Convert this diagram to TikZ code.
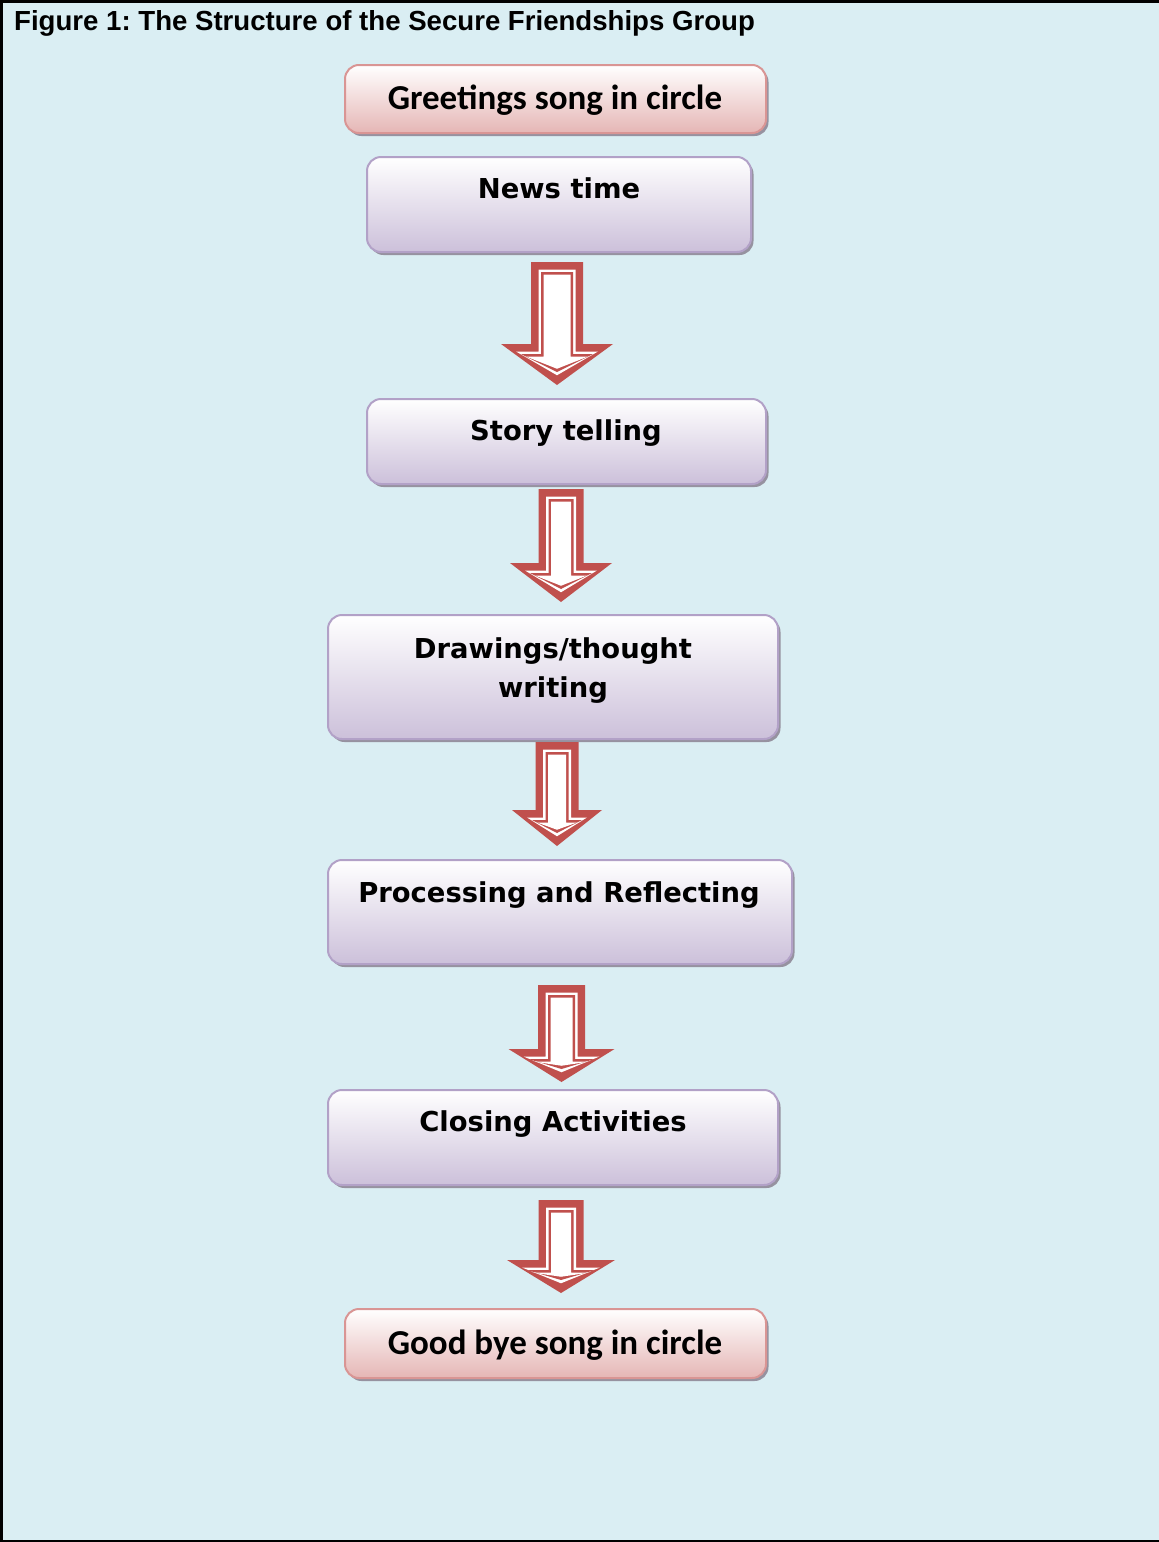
\documentclass[tikz,border=0pt]{standalone}
\usepackage{fontspec}
\usetikzlibrary{shadows}
\newfontfamily\titlefont{Liberation Sans}
\newfontfamily\calfont{Carlito}
\newfontfamily\verfont{DejaVu Sans}
\frenchspacing
\definecolor{bgblue}{RGB}{218,238,243}
\definecolor{pinkborder}{RGB}{217,149,148}
\definecolor{pinkbottom}{RGB}{229,182,181}
\definecolor{purpborder}{RGB}{178,161,199}
\definecolor{purpbottom}{RGB}{204,192,218}
\definecolor{shadowc}{RGB}{150,146,160}
\definecolor{arrowred}{RGB}{192,80,77}
\tikzset{
  basebox/.style={rectangle, rounded corners=14pt, line width=2pt, anchor=north west,
    inner sep=0pt, top color=white,
    general shadow={shadow xshift=2.5pt, shadow yshift=-3pt, fill=shadowc}},
  pinkbox/.style={basebox, draw=pinkborder, bottom color=pinkbottom},
  purpbox/.style={basebox, draw=purpborder, bottom color=purpbottom},
  caltext/.style={anchor=base, inner sep=0pt, font=\calfont\bfseries\fontsize{35}{42}\selectfont},
  vertext/.style={anchor=base, inner sep=0pt, align=center,
    font=\verfont\bfseries\fontsize{27.4}{39}\selectfont},
}
% arrow helper: cx, top, shaft half, head half, head base, tip, inset
\newcommand\arrowcalc[7]{%
  \pgfmathsetmacro\aSL{#1-#3+#7}%
  \pgfmathsetmacro\aSR{#1+#3-#7}%
  \pgfmathsetmacro\aTop{#2+#7}%
  \pgfmathsetmacro\aBase{#5+#7}%
  \pgfmathsetmacro\aHL{#1-#4+2*#7}%
  \pgfmathsetmacro\aHR{#1+#4-2*#7}%
  \pgfmathsetmacro\aTip{#6-1.3*#7}%
  \pgfmathsetmacro\aCX{#1}%
}
\newcommand\arrowlayer[1]{%
  \fill[#1] (\aSL,\aTop) -- (\aSR,\aTop) -- (\aSR,\aBase) -- (\aHR,\aBase)
    -- (\aCX,\aTip) -- (\aHL,\aBase) -- (\aSL,\aBase) -- cycle;%
}
\newcommand\redarrow[6]{%
  \arrowcalc{#1}{#2}{#3}{#4}{#5}{#6}{0}\arrowlayer{arrowred}%
  \arrowcalc{#1}{#2}{#3}{#4}{#5}{#6}{7.5}\arrowlayer{white}%
  \arrowcalc{#1}{#2}{#3}{#4}{#5}{#6}{10}\arrowlayer{arrowred}%
  \arrowcalc{#1}{#2}{#3}{#4}{#5}{#6}{12.5}\arrowlayer{white}%
}
\begin{document}
\begin{tikzpicture}[x=1pt,y=-1pt]
\useasboundingbox (0,0) rectangle (1159,1542);
\fill[bgblue] (0,0) rectangle (1159,1542);
\draw[line width=2.5pt] (1159,1.25) -- (1.25,1.25) -- (1.25,1540.75) -- (1159,1540.75);
\node[anchor=base west, inner sep=0pt, font=\titlefont\bfseries\fontsize{27.6}{30}\selectfont]
  (title) at (14,30) {Figure 1: The Structure of the Secure Friendships Group};

\node[pinkbox, minimum width=421pt, minimum height=68pt] (b1) at (344,64) {};
\node[purpbox, minimum width=384pt, minimum height=95pt] (b2) at (366,156) {};
\node[purpbox, minimum width=399pt, minimum height=85pt] (b3) at (366,398) {};
\node[purpbox, minimum width=450pt, minimum height=124pt] (b4) at (327,614) {};
\node[purpbox, minimum width=464pt, minimum height=104pt] (b5) at (327,859) {};
\node[purpbox, minimum width=450pt, minimum height=95pt] (b6) at (327,1089) {};
\node[pinkbox, minimum width=421pt, minimum height=69pt] (b7) at (344,1308) {};

\node[caltext] (t1) at (555,109) {Greetings song in circle};
\node[vertext] (t2) at (559,198) {News time};
\node[vertext] (t3) at (566,440) {Story telling};
\node[vertext] (t4) at (553,697) {Drawings/thought\\writing};
\node[vertext] (t5) at (559,902) {Processing and Reflecting};
\node[vertext] (t6) at (553,1131) {Closing Activities};
\node[caltext] (t7) at (555,1354) {Good bye song in circle};

\redarrow{557}{262}{26}{56}{344}{385}
\redarrow{561}{489}{22.5}{51}{563}{602}
\redarrow{557}{742}{21.5}{45}{810}{846}
\redarrow{561.5}{985}{23.5}{53}{1049}{1082}
\redarrow{561}{1200}{22.5}{54}{1260}{1293}
\end{tikzpicture}
\end{document}
